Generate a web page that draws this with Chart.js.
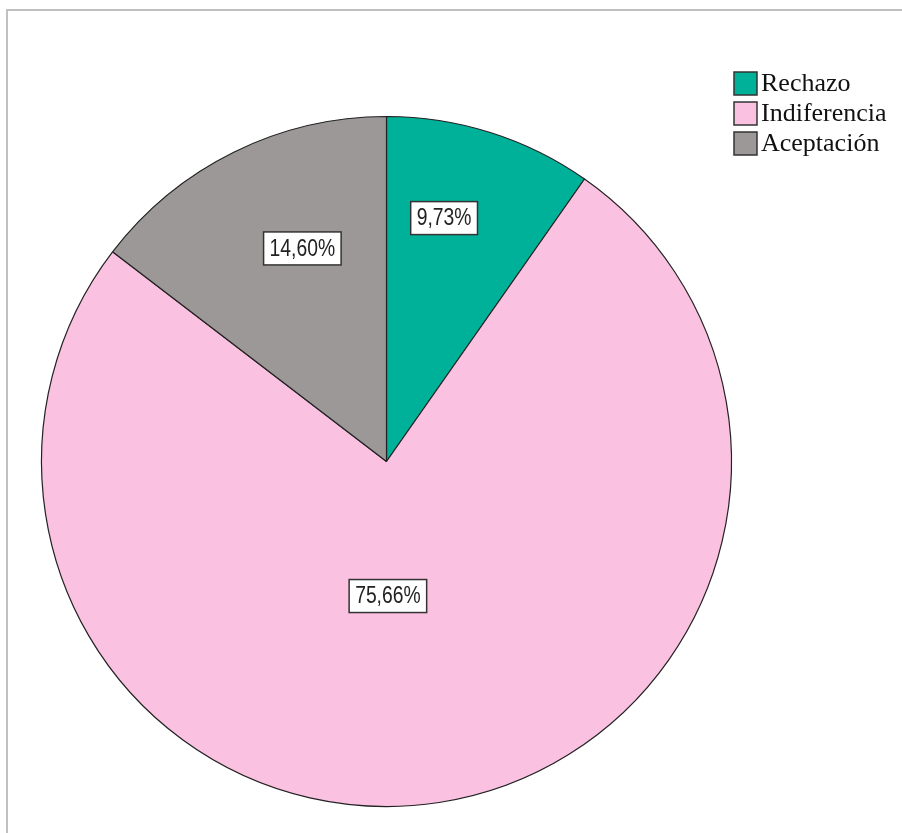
<!DOCTYPE html>
<html>
<head>
<meta charset="utf-8">
<script src="https://cdn.jsdelivr.net/npm/chart.js@4.4.1/dist/chart.umd.min.js"></script>
<style>
  html, body { margin: 0; padding: 0; background: #ffffff; }
  #wrap { position: relative; width: 902px; height: 833px; }
</style>
</head>
<body>
<div id="wrap"><canvas id="c" width="902" height="833"></canvas></div>
<script>
// Response categories and their shares (%)
const categories = ['Rechazo', 'Indiferencia', 'Aceptación'];
const shares = [9.73, 75.66, 14.60];
const sliceColors = ['#00b19a', '#fbc1e0', '#9c9898'];

const fmt = v => v.toFixed(2).replace('.', ',') + '%';

// Light frame along the top and left edge of the panel
const framePlugin = {
  id: 'frame',
  beforeDraw(chart) {
    const ctx = chart.ctx;
    ctx.save();
    ctx.fillStyle = '#c0c0c0';
    ctx.fillRect(6, 9, 2, chart.height - 9);
    ctx.fillRect(6, 9, chart.width - 6, 2);
    ctx.restore();
  }
};

// Boxed percentage label inside each slice
const sliceLabels = {
  id: 'sliceLabels',
  afterDatasetsDraw(chart, args, opts) {
    const ctx = chart.ctx;
    const meta = chart.getDatasetMeta(0);
    const ds = chart.data.datasets[0];
    meta.data.forEach((arc, i) => {
      const p = arc.getProps(['x', 'y', 'startAngle', 'endAngle', 'outerRadius'], true);
      const ang = p.startAngle + (p.endAngle - p.startAngle) * opts.anglePosition[i];
      const frac = opts.radiusFraction[i];
      const cx = p.x + Math.cos(ang) * p.outerRadius * frac;
      const cy = p.y + Math.sin(ang) * p.outerRadius * frac;
      const text = fmt(ds.data[i]);
      ctx.save();
      ctx.font = '23px "Liberation Sans", Arial, sans-serif';
      const sx = 0.84;
      const tw = ctx.measureText(text).width * sx;
      const bw = tw + 12, bh = 33;
      ctx.fillStyle = '#ffffff';
      ctx.fillRect(cx - bw / 2, cy - bh / 2, bw, bh);
      ctx.strokeStyle = '#333333';
      ctx.lineWidth = 1.5;
      ctx.strokeRect(cx - bw / 2, cy - bh / 2, bw, bh);
      ctx.translate(cx, cy + 1);
      ctx.scale(sx, 1);
      ctx.fillStyle = '#222222';
      ctx.textAlign = 'center';
      ctx.textBaseline = 'middle';
      ctx.fillText(text, 0, 0);
      ctx.restore();
    });
  }
};

// Legend block at the upper right
const boxLegend = {
  id: 'boxLegend',
  afterDraw(chart, args, opts) {
    const ctx = chart.ctx;
    const ds = chart.data.datasets[0];
    ctx.save();
    chart.data.labels.forEach((lab, i) => {
      const top = opts.top + i * opts.rowHeight;
      ctx.fillStyle = ds.backgroundColor[i];
      ctx.fillRect(opts.left, top, 23, 23);
      ctx.strokeStyle = '#333333';
      ctx.lineWidth = 1.5;
      ctx.strokeRect(opts.left, top, 23, 23);
      ctx.fillStyle = '#111111';
      ctx.font = '26px "Liberation Serif", "Times New Roman", serif';
      ctx.textBaseline = 'middle';
      ctx.textAlign = 'left';
      ctx.fillText(lab, opts.left + 27, top + 12);
    });
    ctx.restore();
  }
};

new Chart(document.getElementById('c'), {
  type: 'pie',
  data: {
    labels: categories,
    datasets: [{
      data: shares,
      backgroundColor: sliceColors,
      borderColor: '#222222',
      borderWidth: 1.2
    }]
  },
  options: {
    responsive: false,
    animation: false,
    radius: 345,
    layout: { padding: { left: 41.5, right: 170.5, top: 116.5, bottom: 26.5 } },
    plugins: {
      legend: { display: false },
      tooltip: { enabled: false },
      sliceLabels: { anglePosition: [0.38, 0.53, 0.59], radiusFraction: [0.725, 0.39, 0.664] },
      boxLegend: { left: 734, top: 72, rowHeight: 30 }
    }
  },
  plugins: [framePlugin, sliceLabels, boxLegend]
});
</script>
</body>
</html>
